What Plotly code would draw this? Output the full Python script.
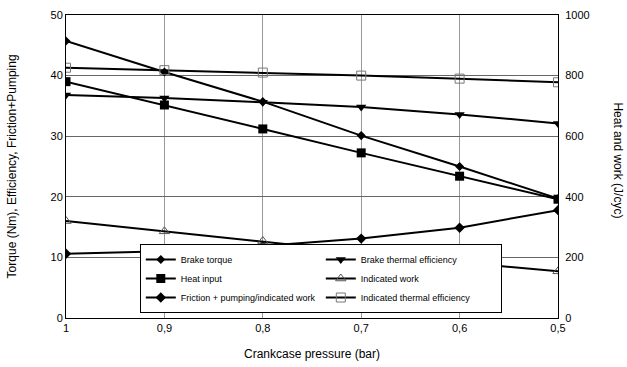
import plotly.graph_objects as go

pressure = [1.0, 0.9, 0.8, 0.7, 0.6, 0.5]
tick_labels = ["1", "0,9", "0,8", "0,7", "0,6", "0,5"]

brake_torque = [45.7, 40.6, 35.7, 30.1, 25.0, 19.7]
brake_thermal_eff = [36.8, 36.3, 35.6, 34.8, 33.6, 32.1]
friction_pumping = [10.6, 11.0, 11.9, 13.1, 14.9, 17.8]
indicated_thermal_eff = [41.3, 40.9, 40.5, 40.0, 39.5, 38.9]

heat_input = [780, 703, 624, 545, 468, 392]
indicated_work = [320, 286, 254, 218, 184, 154]

fig = go.Figure()
line = dict(color="black", width=2)

fig.add_trace(go.Scatter(x=pressure, y=brake_torque, name="Brake torque", mode="lines+markers",
                         line=line, marker=dict(symbol="diamond", size=7, color="black")))
fig.add_trace(go.Scatter(x=pressure, y=brake_thermal_eff, name="Brake thermal efficiency", mode="lines+markers",
                         line=line, marker=dict(symbol="triangle-down", size=9, color="black")))
fig.add_trace(go.Scatter(x=pressure, y=heat_input, name="Heat input", mode="lines+markers", yaxis="y2",
                         line=line, marker=dict(symbol="square", size=9, color="black")))
fig.add_trace(go.Scatter(x=pressure, y=indicated_work, name="Indicated work", mode="lines+markers", yaxis="y2",
                         line=line, marker=dict(symbol="triangle-up-open", size=9, color="#555555",
                                                line=dict(width=1, color="#555555"))))
fig.add_trace(go.Scatter(x=pressure, y=friction_pumping, name="Friction + pumping/indicated work", mode="lines+markers",
                         line=line, marker=dict(symbol="diamond", size=8, color="black")))
fig.add_trace(go.Scatter(x=pressure, y=indicated_thermal_eff, name="Indicated thermal efficiency", mode="lines+markers",
                         line=line, marker=dict(symbol="square-open", size=9, color="#777777",
                                                line=dict(width=1, color="#777777"))))

font = dict(family="Liberation Sans, Arial, sans-serif", size=11, color="black")

fig.update_layout(
    width=627, height=367,
    margin=dict(l=66, r=69, t=15, b=49),
    paper_bgcolor="white", plot_bgcolor="white",
    font=font,
    showlegend=True,
    legend=dict(x=0.150, y=0.0165, xanchor="left", yanchor="bottom", orientation="h",
                entrywidth=135, entrywidthmode="pixels",
                bgcolor="white", bordercolor="black", borderwidth=1,
                font=dict(family="Liberation Sans, Arial, sans-serif", size=9, color="black"),
                itemwidth=30, tracegroupgap=0),
    xaxis=dict(range=[1.0, 0.5], tickvals=pressure, ticktext=tick_labels,
               showgrid=True, gridcolor="#999999", gridwidth=1,
               showline=True, linecolor="black", linewidth=1, mirror=True,
               ticks="", zeroline=False, automargin=False,
               title=dict(text="Crankcase pressure (bar)", font=dict(size=12), standoff=16)),
    yaxis=dict(range=[0, 50], dtick=10, showgrid=True, gridcolor="#666666", gridwidth=1,
               showline=True, linecolor="black", linewidth=1, ticks="", zeroline=False, automargin=False),
    yaxis2=dict(range=[0, 1000], dtick=200, overlaying="y", side="right", showgrid=False,
                showline=True, linecolor="black", linewidth=1, ticks="", zeroline=False, automargin=False,
                ticklabelstandoff=4),
    annotations=[
        dict(text="Torque (Nm), Efficiency, Friction+Pumping", textangle=-90, x=-0.11, xref="paper",
             y=0.5, yref="paper", xanchor="center", yanchor="middle", showarrow=False, font=dict(size=12)),
        dict(text="Heat and work (J/cyc)", textangle=90, x=1.122, xref="paper", y=0.52, yref="paper",
             xanchor="center", yanchor="middle", showarrow=False, font=dict(size=12)),
    ],
)

fig.write_html("out.html", config={"displayModeBar": False},
               post_script="document.body.style.margin='0';document.body.style.overflow='hidden';")
